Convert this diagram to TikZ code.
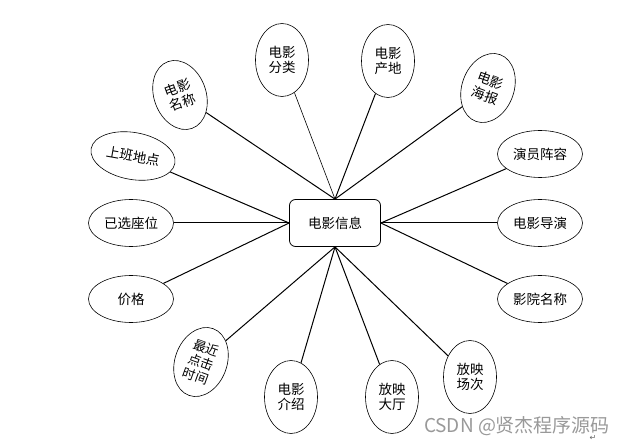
\documentclass[tikz,border=0pt]{standalone}
\usepackage{fontspec}
\newfontfamily\cjk{Noto Sans CJK SC}
\newfontfamily\symfont{DejaVu Sans}
\usetikzlibrary{shapes.geometric}
\begin{document}
\begin{tikzpicture}[x=1pt, y=-1pt,
    attr/.style={ellipse, draw, line width=0.6pt, inner sep=0pt, align=center,
      font=\cjk\fontsize{13.5}{15.5}\selectfont},
    wideattr/.style={attr, minimum width=85pt, minimum height=47pt},
    tallattr/.style={attr, minimum width=53pt, minimum height=73pt},
    entity/.style={rectangle, draw, rounded corners=6pt, line width=0.8pt,
      minimum width=91pt, minimum height=47pt, font=\cjk\fontsize{13.5}{15.5}\selectfont},
    link/.style={line width=1pt}]
  \useasboundingbox (0,0) rectangle (626,446);
  % Entity in the middle
  \node[entity] (info) at (335,223) {电影信息};

  % Attributes above the entity
  \node[tallattr, rotate=20, minimum width=52pt, minimum height=71pt] (mingcheng) at (180,95) {电影\\名称};
  \node[tallattr] (fenlei) at (282,60) {电影\\分类};
  \node[tallattr] (chandi) at (388,61) {电影\\产地};
  \node[tallattr, rotate=-20, minimum width=52pt, minimum height=71pt] (haibao) at (488,88) {电影\\海报};

  % Attributes on the left
  \node[wideattr, rotate=-10] (didian) at (133,156) {上班地点};
  \node[wideattr] (zuowei) at (131,223) {已选座位};
  \node[wideattr] (jiage) at (131,299) {价格};

  % Attributes on the right
  \node[wideattr] (yanyuan) at (540,154) {演员阵容};
  \node[wideattr] (daoyan) at (540,223) {电影导演};
  \node[wideattr] (yingyuan) at (540,299) {影院名称};

  % Attributes below the entity
  \node[tallattr, rotate=-20, minimum width=52pt, minimum height=71pt,
    font=\cjk\fontsize{13}{15}\selectfont] (shijian) at (201,362) {最近\\点击\\时间};
  \node[tallattr] (jieshao) at (291,397) {电影\\介绍};
  \node[tallattr] (dating) at (392,397) {放映\\大厅};
  \node[tallattr] (changci) at (470,377) {放映\\场次};

  % Connectors to the entity
  \draw[link] (mingcheng) -- (info.north);
  \draw[line width=0.6pt] (fenlei) -- (info.north);
  \draw[link] (chandi) -- (info.north);
  \draw[link] (haibao) -- (info.north);
  \draw[link] (didian) -- (info.west);
  \draw[link] (zuowei) -- (info.west);
  \draw[link] (jiage) -- (info.west);
  \draw[link] (yanyuan) -- (info.east);
  \draw[link] (daoyan) -- (info.east);
  \draw[link] (yingyuan) -- (info.east);
  \draw[link] (shijian) -- (info.south);
  \draw[link] (jieshao) -- (info.south);
  \draw[link] (dating) -- (info.south);
  \draw[link] (changci) -- (info.south);

  % Watermark
  \node[font=\cjk\fontsize{19}{19}\selectfont, text=black!40] (mark) at (517,426) {CSDN @贤杰程序源码};
  \node[font=\symfont\fontsize{8}{8}\selectfont, text=black!60] (ret) at (593,438) {↵};
\end{tikzpicture}
\end{document}
